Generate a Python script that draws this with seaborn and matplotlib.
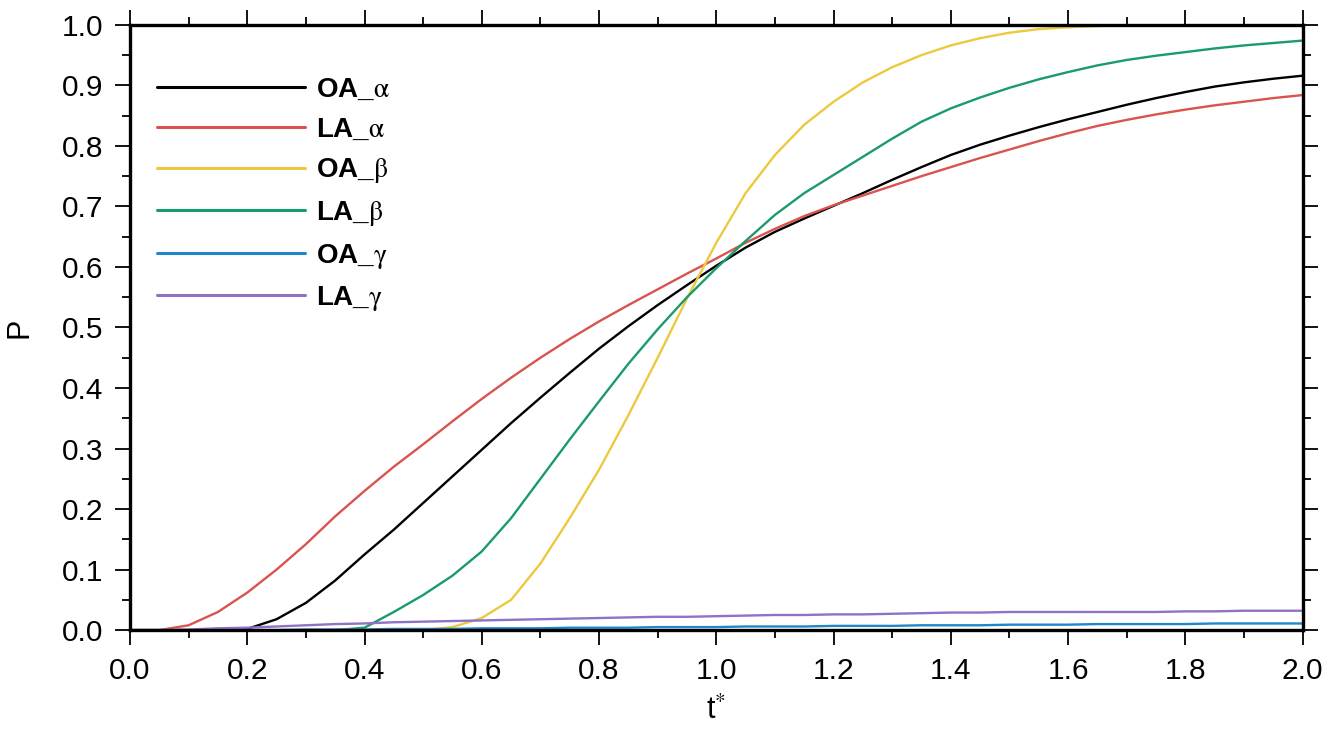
import matplotlib
matplotlib.use('Agg')
import seaborn as sns
import matplotlib.pyplot as plt
from matplotlib.ticker import MultipleLocator, FormatStrFormatter
import pandas as pd
import numpy as np

# t* grid, step 0.05
t = [round(0.05 * i, 2) for i in range(41)]

oa_alpha = [0, 0, 0, 0, 0.002, 0.018, 0.045, 0.082, 0.125, 0.166,
            0.210, 0.254, 0.298, 0.342, 0.384, 0.425, 0.465, 0.502, 0.537, 0.570,
            0.602, 0.632, 0.658, 0.680, 0.701, 0.722, 0.744, 0.765, 0.785, 0.802,
            0.817, 0.831, 0.844, 0.856, 0.868, 0.879, 0.889, 0.898, 0.905, 0.911,
            0.916]
la_alpha = [0, 0, 0.008, 0.030, 0.062, 0.100, 0.142, 0.188, 0.230, 0.270,
            0.307, 0.345, 0.382, 0.417, 0.450, 0.481, 0.510, 0.537, 0.563, 0.589,
            0.614, 0.640, 0.663, 0.684, 0.702, 0.718, 0.734, 0.750, 0.765, 0.780,
            0.794, 0.808, 0.821, 0.833, 0.843, 0.852, 0.860, 0.867, 0.873, 0.879,
            0.884]
oa_beta = [0, 0, 0, 0, 0, 0, 0, 0, 0, 0,
           0, 0.005, 0.020, 0.050, 0.110, 0.185, 0.265, 0.355, 0.450, 0.548,
           0.640, 0.722, 0.785, 0.835, 0.873, 0.905, 0.930, 0.950, 0.966, 0.978,
           0.987, 0.993, 0.996, 0.998, 1.0, 1.0, 1.0, 1.0, 1.0, 1.0,
           1.0]
la_beta = [0, 0, 0, 0, 0, 0, 0, 0, 0.004, 0.030,
           0.058, 0.090, 0.130, 0.185, 0.250, 0.315, 0.378, 0.440, 0.497, 0.550,
           0.598, 0.643, 0.686, 0.722, 0.752, 0.782, 0.812, 0.840, 0.862, 0.880,
           0.896, 0.910, 0.922, 0.933, 0.942, 0.949, 0.955, 0.961, 0.966, 0.970,
           0.974]
oa_gamma = [0, 0, 0, 0, 0, 0, 0.001, 0.001, 0.001, 0.002,
            0.002, 0.002, 0.003, 0.003, 0.003, 0.004, 0.004, 0.004, 0.005, 0.005,
            0.005, 0.006, 0.006, 0.006, 0.007, 0.007, 0.007, 0.008, 0.008, 0.008,
            0.009, 0.009, 0.009, 0.010, 0.010, 0.010, 0.010, 0.011, 0.011, 0.011,
            0.011]
la_gamma = [0, 0, 0.001, 0.003, 0.004, 0.006, 0.008, 0.010, 0.011, 0.013,
            0.014, 0.015, 0.016, 0.017, 0.018, 0.019, 0.020, 0.021, 0.022, 0.022,
            0.023, 0.024, 0.025, 0.025, 0.026, 0.026, 0.027, 0.028, 0.029, 0.029,
            0.030, 0.030, 0.030, 0.030, 0.030, 0.030, 0.031, 0.031, 0.032, 0.032,
            0.032]

labels = [r'OA_$\mathrm{\alpha}$', r'LA_$\mathrm{\alpha}$', r'OA_$\mathrm{\beta}$',
          r'LA_$\mathrm{\beta}$', r'OA_$\mathrm{\gamma}$', r'LA_$\mathrm{\gamma}$']
colors = ['#000000', '#d9534f', '#ecc93f', '#1a9b6c', '#1f88c9', '#8e72c6']
series = [oa_alpha, la_alpha, oa_beta, la_beta, oa_gamma, la_gamma]

df = pd.concat([pd.DataFrame({'t': t, 'P': s, 'case': name})
                for name, s in zip(labels, series)], ignore_index=True)

sns.set_theme(style="ticks")
plt.rcParams['font.family'] = ['Liberation Sans', 'DejaVu Sans']
plt.rcParams['mathtext.fontset'] = 'stix'
plt.rcParams['text.color'] = 'black'
plt.rcParams['axes.labelcolor'] = 'black'

fig = plt.figure(figsize=(13.36, 7.31), dpi=100)
ax = fig.add_axes([0.0973, 0.138, 0.8777, 0.828])
sns.lineplot(data=df, x='t', y='P', hue='case', hue_order=labels,
             palette=dict(zip(labels, colors)), linewidth=1.7, ax=ax)

ax.set_xlim(0, 2)
ax.set_ylim(0, 1)
ax.xaxis.set_major_locator(MultipleLocator(0.2))
ax.xaxis.set_minor_locator(MultipleLocator(0.1))
ax.yaxis.set_major_locator(MultipleLocator(0.1))
ax.yaxis.set_minor_locator(MultipleLocator(0.05))
ax.xaxis.set_major_formatter(FormatStrFormatter('%.1f'))
ax.yaxis.set_major_formatter(FormatStrFormatter('%.1f'))
ax.tick_params(which='both', direction='out', top=True, right=True,
               color='black', width=1.3, labelsize=21.5, labelcolor='black')
ax.tick_params(which='major', length=11, pad=8)
ax.tick_params(which='minor', length=6)
for sp in ax.spines.values():
    sp.set_linewidth(2.4)
    sp.set_color('black')

ax.set_xlabel(r't$^{*}$', fontsize=22, labelpad=8)
ax.set_ylabel('P', fontsize=22, labelpad=20)

leg = ax.legend(loc='upper left', bbox_to_anchor=(0.002, 0.955), frameon=False,
                handlelength=5.3, handletextpad=0.4, labelspacing=0.49,
                prop={'size': 20, 'weight': 'bold'})
for line in leg.get_lines():
    line.set_linewidth(2.2)
for txt in leg.get_texts():
    txt.set_color('black')

plt.savefig('out.png', dpi=100)
